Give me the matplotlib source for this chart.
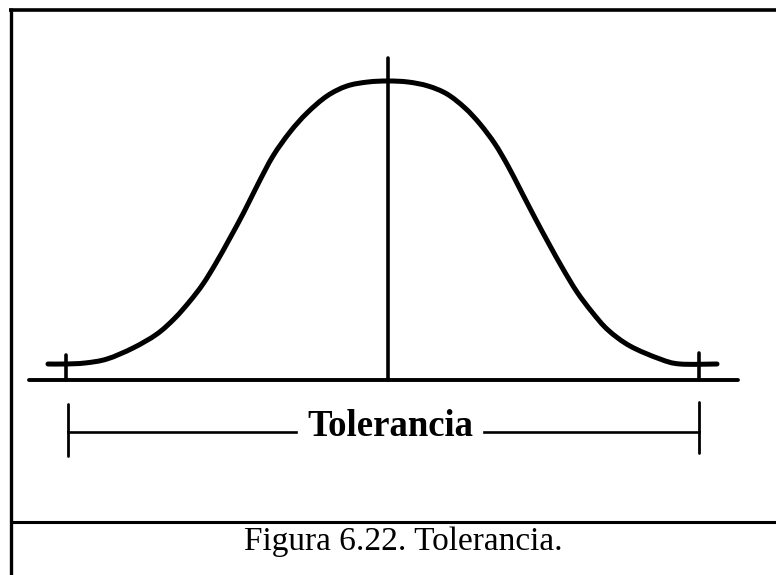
"""Tolerance diagram: bell curve with tolerance limits and caption."""

import matplotlib

matplotlib.use("Agg")
import matplotlib.pyplot as plt
import numpy as np
from matplotlib.patches import PathPatch
from matplotlib.path import Path

# bell curve traced point by point (x, y in figure pixels, y downward)
curve_x = [48, 65, 85, 107, 133, 157, 175, 190, 203, 216, 230, 244, 258,
           273, 290, 307, 327, 347, 368, 388, 408, 428, 447, 465, 480, 495,
           508, 521, 535, 549, 563, 577, 592, 608, 630, 660, 680, 717]
curve_y = [364, 364, 363, 359, 348, 334, 318, 301, 284, 263, 238, 212, 184,
           156, 132, 113, 96, 86, 82, 81, 82, 86, 94, 108, 124, 144,
           166, 191, 218, 244, 269, 292, 312, 330, 346, 359, 364, 364]

base_x = [29, 738]
base_y = 380
center_x = 388
center_top = 58
limit_x = [66, 699]
limit_top = [355, 353]

tol_x = [68, 699]
tol_y = 432
tol_gap = [296, 484]
tol_tick = [(404, 456), (402, 453)]
tol_label = "Tolerancia"

caption = "Figura 6.22. Tolerancia."
caption_sep = 522

W, H = 776, 575


def smooth_path(xs, ys):
    """Catmull-Rom through the traced points, as cubic Bezier segments."""
    pts = np.column_stack([xs, ys]).astype(float)
    padded = np.vstack([pts[0], pts, pts[-1]])
    verts = [pts[0]]
    codes = [Path.MOVETO]
    for i in range(1, len(padded) - 2):
        p0, p1, p2, p3 = padded[i - 1], padded[i], padded[i + 1], padded[i + 2]
        verts += [p1 + (p2 - p0) / 6, p2 - (p3 - p1) / 6, p2]
        codes += [Path.CURVE4] * 3
    return Path(verts, codes)


fig = plt.figure(figsize=(W / 100, H / 100), dpi=100)
ax = fig.add_axes([0, 0, 1, 1])
ax.set_xlim(0, W)
ax.set_ylim(H, 0)
ax.axis("off")

ink = "black"
serif = ["Liberation Serif", "DejaVu Serif"]

# frame: top and left edges plus caption separator
ax.plot([9, W], [9.5, 9.5], color=ink, lw=2.6, solid_capstyle="butt")
ax.plot([10.5, 10.5], [8, H], color=ink, lw=2.4, solid_capstyle="butt")
ax.plot([10, W], [caption_sep, caption_sep], color=ink, lw=2.2, solid_capstyle="butt")

# curve, axis line, mean line and limit ticks
ax.add_patch(PathPatch(smooth_path(curve_x, curve_y), fill=False, edgecolor=ink,
                       lw=3.6, joinstyle="round", capstyle="round"))
ax.plot(base_x, [base_y, base_y], color=ink, lw=2.8, solid_capstyle="round")
ax.plot([center_x, center_x], [center_top, base_y], color=ink, lw=2.6,
        solid_capstyle="round")
for x, top in zip(limit_x, limit_top):
    ax.plot([x, x], [top, base_y], color=ink, lw=2.6, solid_capstyle="round")

# tolerance span
ax.plot([tol_x[0], tol_gap[0]], [tol_y, tol_y], color=ink, lw=1.9)
ax.plot([tol_gap[1], tol_x[1]], [tol_y, tol_y], color=ink, lw=1.9)
for x, (y0, y1) in zip(tol_x, tol_tick):
    ax.plot([x, x], [y0, y1], color=ink, lw=2.0, solid_capstyle="round")
ax.text((tol_gap[0] + tol_gap[1]) / 2, 436, tol_label, ha="center",
        va="baseline", fontsize=26.5, fontweight="bold", family=serif, color=ink)

ax.text(403, 550, caption, ha="center", va="baseline", fontsize=24,
        family=serif, color=ink)

fig.savefig("out.png", dpi=100)
